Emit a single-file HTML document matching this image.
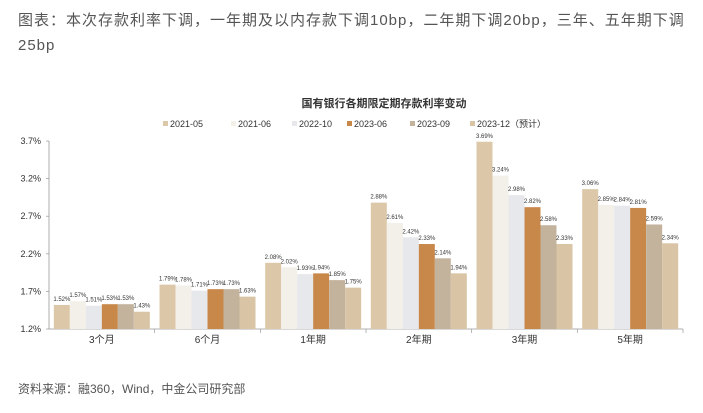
<!DOCTYPE html>
<html><head><meta charset="utf-8"><style>
body{margin:0;width:703px;height:413px;background:#fff;overflow:hidden;font-family:"Liberation Sans","Noto Sans CJK SC",sans-serif}
#cap{position:absolute;left:18px;top:8px;width:690px;font-size:15px;line-height:25px;color:#555;letter-spacing:1px;white-space:nowrap}
#src{position:absolute;left:18px;top:380px;font-size:12px;color:#555}
svg{position:absolute;left:0;top:0}
</style></head><body>
<div id="cap">图表：本次存款利率下调，一年期及以内存款下调10bp，二年期下调20bp，三年、五年期下调<br>25bp</div>
<svg id="chart" width="703" height="413"></svg>
<div id="src">资料来源：融360，Wind，中金公司研究部</div>
<script>
const categories=["3个月","6个月","1年期","2年期","3年期","5年期"];
const seriesNames=["2021-05","2021-06","2022-10","2023-06","2023-09","2023-12（预计）"];
const s0=[1.52,1.79,2.08,2.88,3.69,3.06];
const s1=[1.57,1.78,2.02,2.61,3.24,2.85];
const s2=[1.51,1.71,1.93,2.42,2.98,2.84];
const s3=[1.53,1.73,1.94,2.33,2.82,2.81];
const s4=[1.53,1.73,1.85,2.14,2.58,2.59];
const s5=[1.43,1.63,1.75,1.94,2.33,2.34];
const yTicks=[1.2,1.7,2.2,2.7,3.2,3.7];
const series=[s0,s1,s2,s3,s4,s5];
const colors=["#dcc8a8","#f3efe9","#e7e8eb","#c8884a","#c3b39d","#d9c5a5"];
const svg=document.getElementById('chart');const NS="http://www.w3.org/2000/svg";
function mk(t,a,txt){const e=document.createElementNS(NS,t);for(const k in a)e.setAttribute(k,a[k]);if(txt!==undefined)e.textContent=txt;svg.appendChild(e);return e;}
const x0=49,x1=683,yTop=141,yBot=329,ymin=1.2,ymax=3.7;
const y=v=>yBot-(v-ymin)/(ymax-ymin)*(yBot-yTop);
const cw=(x1-x0)/categories.length,bw=16;
let e=mk('text',{x:384,y:107,'text-anchor':'middle','font-size':11,'font-weight':'bold',fill:'#333'},'国有银行各期限定期存款利率变动');

const lx=[163,231,292,347,410,470];
seriesNames.forEach((n,i)=>{
 let r=mk('rect',{x:lx[i],y:121,width:5,height:5,fill:colors[i]});
 
 let t=mk('text',{x:lx[i]+7,y:127,'font-size':9,fill:'#333'},n);
 
});
yTicks.forEach(v=>{
 let t=mk('text',{x:41,y:y(v)+3,'text-anchor':'end','font-size':9,fill:'#333'},v.toFixed(1)+'%');
 
 mk('line',{x1:x0-3,x2:x0,y1:y(v),y2:y(v),stroke:'#999','stroke-width':0.7});
});
e=mk('line',{x1:x0,x2:x0,y1:yTop,y2:yBot,stroke:'#999','stroke-width':0.8});

e=mk('line',{x1:x0,x2:x1,y1:yBot,y2:yBot,stroke:'#999','stroke-width':0.8});

categories.forEach((c,ci)=>{
 const gx=x0+ci*cw;
 mk('line',{x1:gx+cw,x2:gx+cw,y1:yBot,y2:yBot+4,stroke:'#999','stroke-width':0.7});
 let t=mk('text',{x:gx+cw/2,y:yBot+14,'text-anchor':'middle','font-size':10,fill:'#333'},c);
 
 series.forEach((s,si)=>{
  const bx=gx+(cw-6*bw)/2+si*bw;
  let r=mk('rect',{x:bx,y:y(s[ci]),width:bw,height:yBot-y(s[ci]),fill:colors[si]});
  
  let l=mk('text',{x:bx+bw/2,y:y(s[ci])-4,'text-anchor':'middle','font-size':6,fill:'#333'},s[ci].toFixed(2)+'%');
  
 });
});
</script>
</body></html>
